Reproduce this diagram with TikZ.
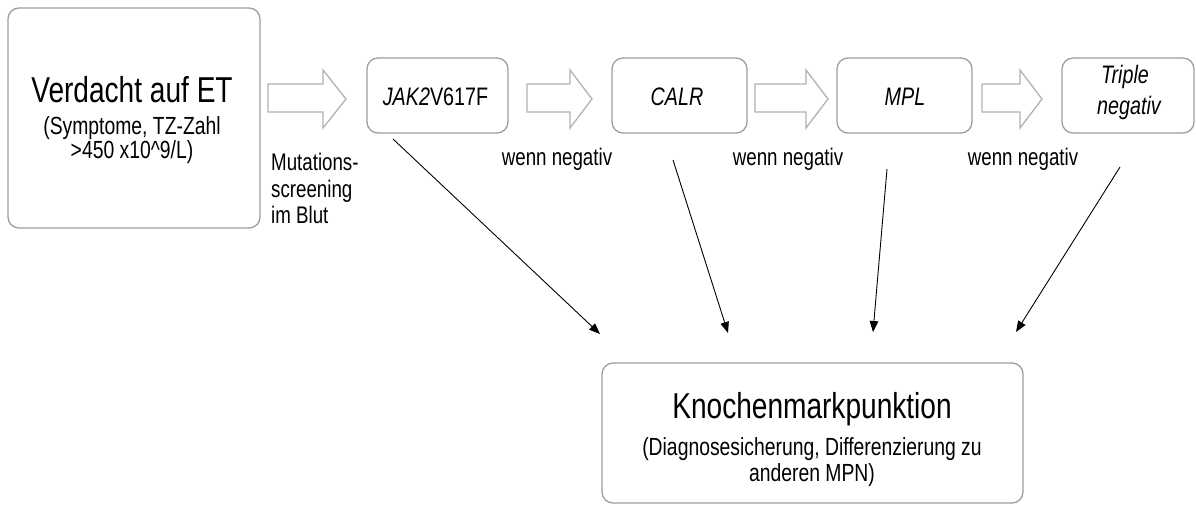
\documentclass[tikz,border=0pt]{standalone}
\usepackage{fontspec}
\setmainfont{Liberation Sans}[FakeStretch=0.78]
\usetikzlibrary{arrows.meta}
\definecolor{boxgray}{RGB}{158,158,158}
\definecolor{arrgray}{RGB}{178,178,178}
\newcommand\blockarr[3]{\draw[barrow] (#1,84) -- (#2,84) -- (#2,70) -- (#3,99) -- (#2,128) -- (#2,112) -- (#1,112) -- cycle;}
\begin{document}
\begin{tikzpicture}[x=1pt,y=-1pt,
  rbox/.style={draw=boxgray, line width=1.3pt, rounded corners=11pt, inner sep=0pt, fill=white},
  barrow/.style={draw=arrgray, line width=1.3pt, fill=white, line join=miter},
  conn/.style={draw=black, line width=0.9pt, -{Triangle[length=11pt,width=8.5pt]}},
  ttl/.style={anchor=base, inner sep=0pt, font=\fontsize{36}{40}\selectfont},
  sub/.style={anchor=base, inner sep=0pt, font=\fontsize{24.8}{28}\selectfont},
  lbl/.style={anchor=base, inner sep=0pt, font=\fontsize{24}{28}\selectfont},
  gene/.style={anchor=base, inner sep=0pt, font=\fontsize{25.3}{30}\selectfont}]
\useasboundingbox (0,0) rectangle (1196,505);
\fill[white] (0,0) rectangle (1196,505);

% boxes
\node[rbox, minimum width=252pt, minimum height=220pt] (et) at (134,118) {};
\node[rbox, minimum width=141pt, minimum height=75pt] (jak) at (437.5,95.5) {};
\node[rbox, minimum width=135pt, minimum height=75pt] (calr) at (679.5,95.5) {};
\node[rbox, minimum width=135pt, minimum height=75pt] (mpl) at (904.5,95.5) {};
\node[rbox, minimum width=132pt, minimum height=75pt] (trip) at (1128,95.5) {};
\node[rbox, minimum width=421pt, minimum height=140pt] (km) at (812.5,433) {};

% block arrows
\blockarr{268}{323}{346}
\blockarr{527}{570}{592}
\blockarr{755}{806}{828}
\blockarr{982}{1020}{1042}

% texts
\node[ttl] (et1) at (132,103) {Verdacht auf ET};
\node[sub] (et2) at (132,135) {(Symptome, TZ-Zahl};
\node[sub] (et3) at (132,159) {>450 x10\textasciicircum 9/L)};

\node[lbl, anchor=base west] (mu1) at (271,171) {Mutations-};
\node[lbl, anchor=base west] (mu2) at (271,197) {screening};
\node[lbl, anchor=base west] (mu3) at (271,223) {im Blut};

\node[gene] (jakt) at (435.5,106) {\itshape JAK2\upshape V617F};
\node[gene] (calrt) at (677,106) {\itshape CALR};
\node[gene] (mplt) at (905,106) {\itshape MPL};
\node[gene] (tript1) at (1125,84) {\itshape Triple};
\node[gene] (tript2) at (1129,115) {\itshape negativ};

\node[lbl] (wn1) at (557,166) {wenn negativ};
\node[lbl] (wn2) at (788,166) {wenn negativ};
\node[lbl] (wn3) at (1023,166) {wenn negativ};

\node[ttl] (km1) at (812,418) {Knochenmarkpunktion};
\node[sub] (km2) at (812,455) {(Diagnosesicherung, Differenzierung zu};
\node[sub] (km3) at (812,481) {anderen MPN)};

% connectors
\coordinate (s1) at (393,139); \coordinate (e1) at (600,334);
\coordinate (s2) at (673,160); \coordinate (e2) at (728,333);
\coordinate (s3) at (887,169); \coordinate (e3) at (873,332);
\coordinate (s4) at (1120,167); \coordinate (e4) at (1016,332);
\draw[conn] (s1) -- (e1);
\draw[conn] (s2) -- (e2);
\draw[conn] (s3) -- (e3);
\draw[conn] (s4) -- (e4);
\end{tikzpicture}
\end{document}
